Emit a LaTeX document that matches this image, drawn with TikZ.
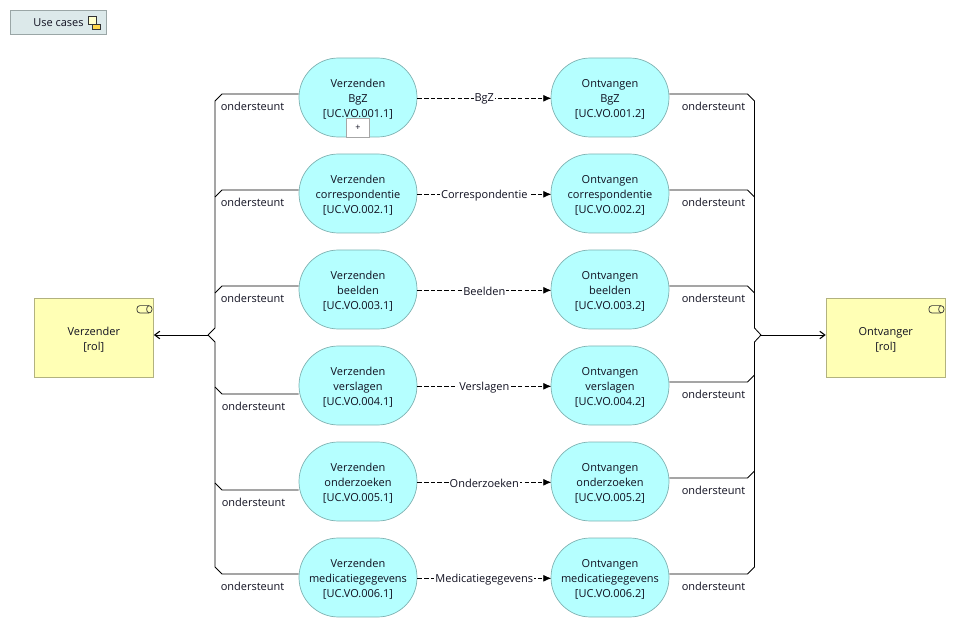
\documentclass[tikz,border=0pt]{standalone}
\usepackage{fontspec}
\setmainfont{Open Sans}
\usetikzlibrary{arrows.meta,calc}
\definecolor{svc}{HTML}{B5FFFF}
\definecolor{svcb}{HTML}{7FB2B2}
\definecolor{role}{HTML}{FFFFB5}
\definecolor{roleb}{HTML}{B2B27F}
\definecolor{tabf}{HTML}{DCE9EA}
\definecolor{tabb}{HTML}{9AA6A6}
\definecolor{txt}{HTML}{101020}
\newcommand{\topgap}{\rule{0pt}{12pt}}
\tikzset{
  service/.style={draw=svcb,fill=svc,line width=.7pt,minimum width=118pt,minimum height=79pt,rounded corners=39.4pt,inner sep=0pt,align=center,text=txt,font=\fontsize{11pt}{15pt}\selectfont},
  rolebox/.style={draw=roleb,fill=role,line width=.7pt,minimum width=119.5pt,minimum height=79pt,inner sep=0pt,align=center,text=txt,font=\fontsize{11pt}{15pt}\selectfont},
  rel/.style={draw=black,line width=.85pt},
  flow/.style={draw=black,line width=.8pt,dash pattern=on 4.5pt off 2.2pt,-{Latex[length=8pt,width=7pt]}},
  lbl/.style={font=\fontsize{11pt}{13pt}\selectfont,text=txt,inner sep=0pt},
  flowlbl/.style={lbl,fill=white,inner xsep=1pt,inner ysep=1pt,yshift=-1pt},
  icon/.style={draw=black!80,line width=.7pt},
}
\begin{document}
\begin{tikzpicture}[x=1pt,y=-1pt]
\useasboundingbox (0,0) rectangle (956,628);
% tab
\node[draw=tabb,fill=tabf,line width=.8pt,minimum width=96.5pt,minimum height=24.5pt,inner sep=0pt] (tab) at (58.25,22.25) {};
\node[lbl,anchor=center] (tabt) at (58.5,22.5) {Use cases};
\draw[icon,fill=role!70!white] (88.5,16) rectangle (96.5,24);
\draw[icon,fill=orange!45!yellow!70] (92,24) rectangle (100.5,29.5);
% roles
\node[rolebox] (snd) at (93.8,337.5) {\topgap Verzender\\{}[rol]};
\node[rolebox] (rcv) at (885.8,337.5) {\topgap Ontvanger\\{}[rol]};
\foreach \b in {snd,rcv}{
  \draw[icon,rounded corners=3pt,fill=role] ($(\b.north east)+(-17,8)$) rectangle ($(\b.north east)+(-2,15.3)$);
  \draw[icon] ($(\b.north east)+(-5,8)$) .. controls ($(\b.north east)+(-8,9)$) and ($(\b.north east)+(-8,14.3)$) .. ($(\b.north east)+(-5,15.3)$);
}
% services
\foreach \i/\yy/\s/\t/\r/\f in {
 1/98/BgZ/BgZ/001/BgZ,
 2/194/correspondentie/correspondentie/002/Correspondentie,
 3/290/beelden/beelden/003/Beelden,
 4/386/verslagen/verslagen/004/Verslagen,
 5/482/onderzoeken/onderzoeken/005/Onderzoeken,
 6/578/medicatiegegevens/medicatiegegevens/006/Medicatiegegevens}{
  \node[service] (s\i) at (358,\yy-.5) {\topgap Verzenden\\\s\\{}[UC.VO.\r.1]};
  \node[service] (o\i) at (610,\yy-.5) {\topgap Ontvangen\\\t\\{}[UC.VO.\r.2]};
  \draw[flow] ($(s\i.east)+(0,.8)$) -- node[flowlbl] (f\i) {\f} ($(o\i.west)+(.6,.8)$);
}
\node[draw=black!35,fill=white,line width=.7pt,minimum width=23pt,minimum height=19pt,inner sep=0pt,anchor=south,font=\fontsize{9pt}{9pt}\selectfont,text=txt] (plus) at (358,137.3) {+};
% junctions
\coordinate (jl) at (208,335);
\coordinate (jr) at (761,335);
\draw[rel,-{Straight Barb[length=5pt,width=7.5pt,line width=1.1pt]}] (jl) -- (snd.east |- jl);
\draw[rel,-{Straight Barb[length=5pt,width=7.5pt,line width=1.1pt]}] (jr) -- (rcv.west |- jr);
% left upper trunk
\draw[rel] (jl) -- (215,328) -- (215,101) -- (222,94) -- ($(s1.west)+(0,-3.5)$);
\draw[rel] (215,197) -- (222,190) -- ($(s2.west)+(0,-3.5)$);
\draw[rel] (215,293) -- (222,286) -- ($(s3.west)+(0,-3.5)$);
% left lower trunk
\draw[rel] (jl) -- (215,342) -- (215,567) -- (222,574) -- ($(s6.west)+(0,-3.5)$);
\draw[rel] (215,387) -- (222,394) -- ($(s4.west)+(0,8.5)$);
\draw[rel] (215,483) -- (222,490) -- ($(s5.west)+(0,8.5)$);
% right upper trunk
\draw[rel] (jr) -- (754.5,328) -- (754.5,101) -- (747.5,94) -- ($(o1.east)+(0,-3.5)$);
\draw[rel] (754.5,197) -- (747.5,190) -- ($(o2.east)+(0,-3.5)$);
\draw[rel] (754.5,293) -- (747.5,286) -- ($(o3.east)+(0,-3.5)$);
% right lower trunk
\draw[rel] (jr) -- (754.5,342) -- (754.5,567) -- (747.5,574) -- ($(o6.east)+(0,-3.5)$);
\draw[rel] (754.5,375) -- (747.5,382) -- ($(o4.east)+(0,-3.5)$);
\draw[rel] (754.5,471) -- (747.5,478) -- ($(o5.east)+(0,-3.5)$);
% relation labels
\foreach \n/\yy in {1/106,2/202,3/298,6/586}{ \node[lbl] (la\n) at (252.5,\yy) {ondersteunt}; }
\foreach \n/\yy in {4/406,5/502}{ \node[lbl] (la\n) at (253.5,\yy) {ondersteunt}; }
\foreach \n/\yy in {1/106,2/202,3/298,4/394,5/490,6/586}{ \node[lbl] (lb\n) at (713.5,\yy) {ondersteunt}; }
\end{tikzpicture}
\end{document}
